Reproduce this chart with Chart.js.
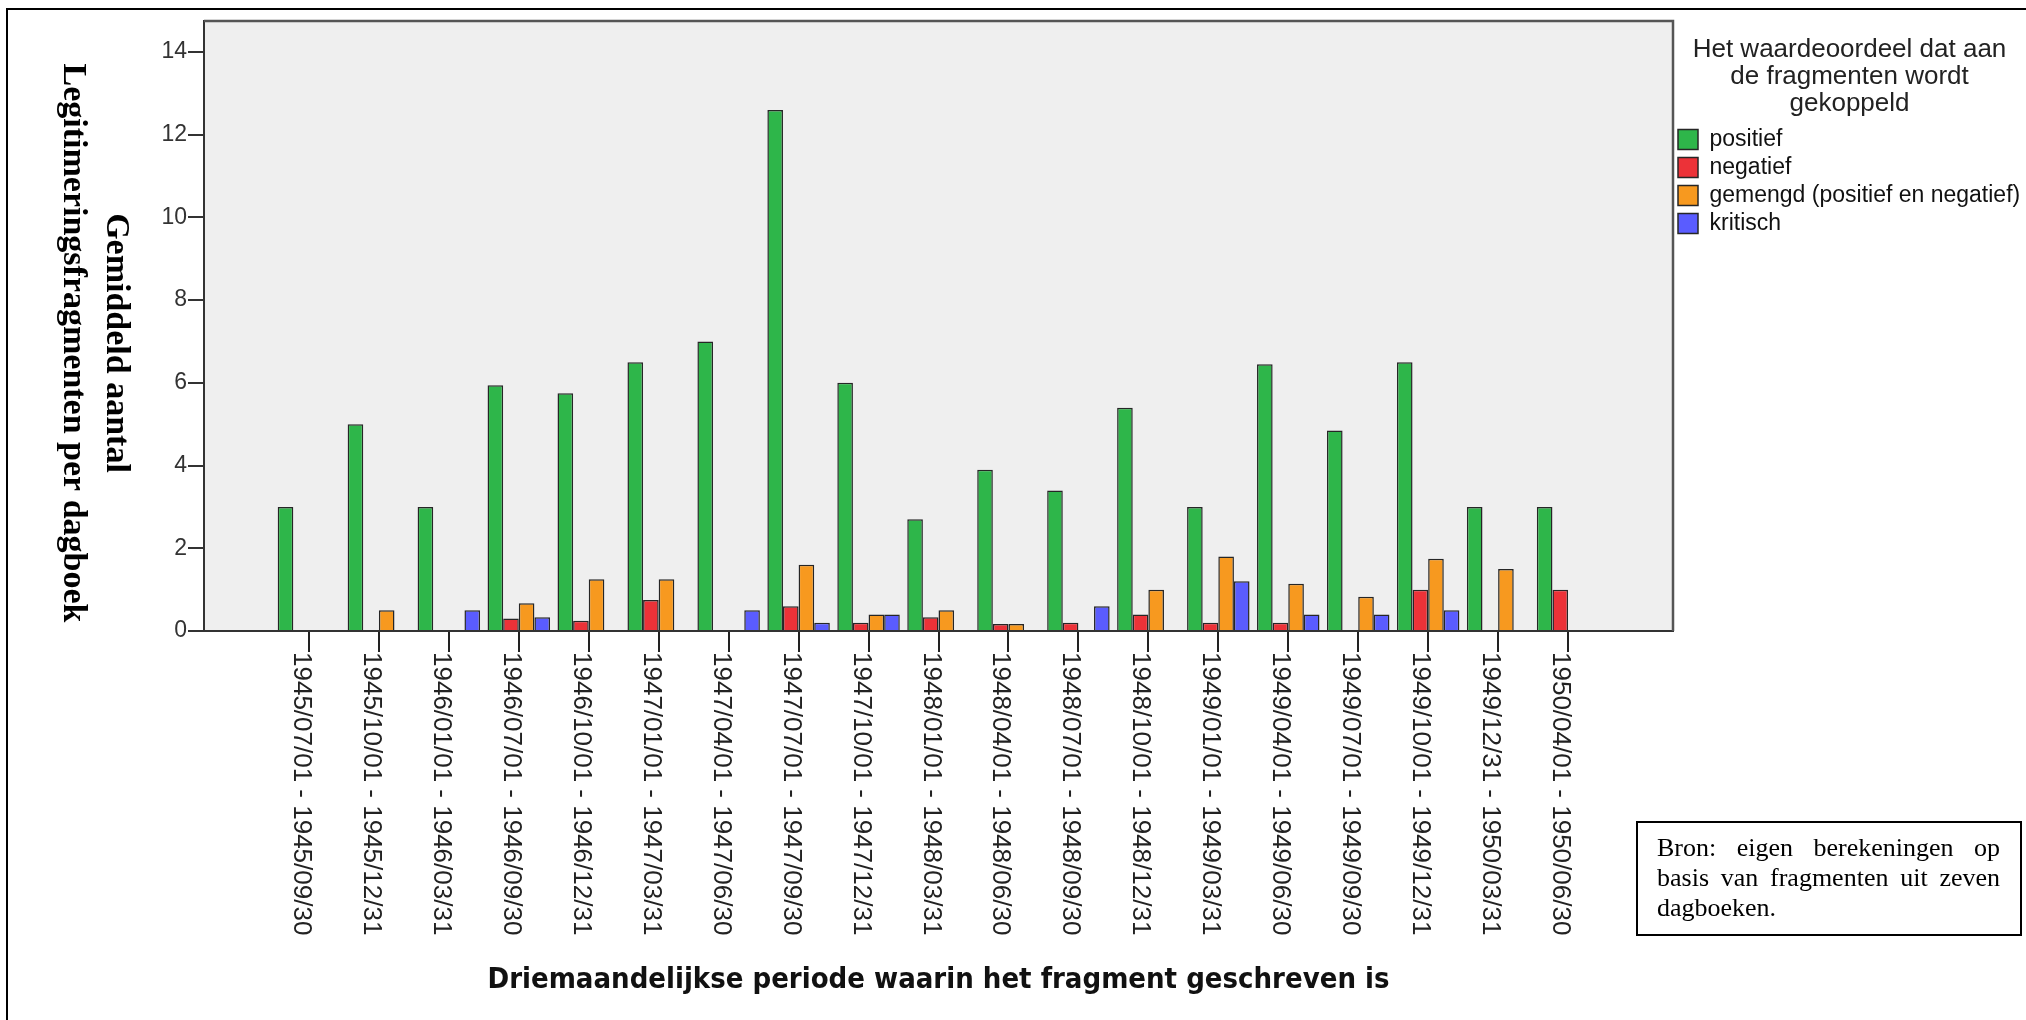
<!DOCTYPE html>
<html>
<head>
<meta charset="utf-8">
<script src="https://cdn.jsdelivr.net/npm/chart.js@4/dist/chart.umd.min.js"></script>
<style>
html,body{margin:0;padding:0;background:#fff;}
#wrap{width:2026px;height:1020px;position:relative;}
</style>
</head>
<body>
<div id="wrap"><canvas id="c" width="2026" height="1020"></canvas></div>
<script>
// ---------- data ----------
const periods = [
  '1945/07/01 - 1945/09/30','1945/10/01 - 1945/12/31','1946/01/01 - 1946/03/31',
  '1946/07/01 - 1946/09/30','1946/10/01 - 1946/12/31','1947/01/01 - 1947/03/31',
  '1947/04/01 - 1947/06/30','1947/07/01 - 1947/09/30','1947/10/01 - 1947/12/31',
  '1948/01/01 - 1948/03/31','1948/04/01 - 1948/06/30','1948/07/01 - 1948/09/30',
  '1948/10/01 - 1948/12/31','1949/01/01 - 1949/03/31','1949/04/01 - 1949/06/30',
  '1949/07/01 - 1949/09/30','1949/10/01 - 1949/12/31','1949/12/31 - 1950/03/31',
  '1950/04/01 - 1950/06/30'
];
const positief = [3, 5, 3, 5.94, 5.75, 6.5, 7, 12.6, 6, 2.7, 3.9, 3.4, 5.4, 3, 6.45, 4.85, 6.5, 3, 3];
const negatief = [0, 0, 0, 0.3, 0.25, 0.75, 0, 0.6, 0.2, 0.33, 0.17, 0.2, 0.4, 0.2, 0.2, 0, 1, 0, 1];
const gemengd  = [0, 0.5, 0, 0.67, 1.25, 1.25, 0, 1.6, 0.4, 0.5, 0.17, 0, 1, 1.8, 1.14, 0.83, 1.75, 1.5, 0];
const kritisch = [0, 0, 0.5, 0.33, 0, 0, 0.5, 0.2, 0.4, 0, 0, 0.6, 0, 1.2, 0.4, 0.4, 0.5, 0, 0];
const seriesNames = ['positief', 'negatief', 'gemengd (positief en negatief)', 'kritisch'];
const seriesColors = ['#2EB64A', '#EC3238', '#F7991F', '#5A5CFF'];
const yTickValues = [0, 2, 4, 6, 8, 10, 12, 14];
const yTitleLines = ['Gemiddeld aantal', 'Legitimeringsfragmenten per dagboek'];
const xTitleText = 'Driemaandelijkse periode waarin het fragment geschreven is';
const legendTitleLines = ['Het waardeoordeel dat aan', 'de fragmenten wordt', 'gekoppeld'];
const sourceLines = ['Bron: eigen berekeningen op', 'basis van fragmenten uit zeven', 'dagboeken.'];

// ---------- helpers ----------
function fontAvailable(name) {
  const c = document.createElement('canvas').getContext('2d');
  c.font = 'bold 40px monospace';
  const w1 = c.measureText('Driemaandelijkse periode').width;
  c.font = 'bold 40px "' + name + '", monospace';
  const w2 = c.measureText('Driemaandelijkse periode').width;
  return Math.abs(w1 - w2) > 0.5;
}
const condensed = fontAvailable('DejaVu Sans Condensed');
const xTitleFont = condensed
  ? {family: '"DejaVu Sans Condensed"', size: 29, weight: 'bold'}
  : {family: '"DejaVu Sans"', size: 26.5, weight: 'bold'};

const seriesValues = [positief, negatief, gemengd, kritisch];
const datasets = seriesValues.map((vals, k) => ({
  label: seriesNames[k],
  data: vals.map((v, i) => ({x: i, y: v})),
  backgroundColor: seriesColors[k],
  borderColor: '#262626',
  borderWidth: 1.5,
  borderSkipped: 'bottom'
}));

const decor = {
  id: 'decor',
  beforeDraw(chart) {
    const {ctx, chartArea: a} = chart;
    ctx.save();
    ctx.fillStyle = '#ffffff';
    ctx.fillRect(0, 0, chart.width, chart.height);
    ctx.fillStyle = '#EFEFEF';
    ctx.fillRect(a.left, a.top, a.right - a.left, a.bottom - a.top);
    ctx.restore();
  },
  afterDraw(chart) {
    const {ctx, chartArea: a} = chart;
    const xs = chart.scales.x;
    ctx.save();
    // plot frame top and right
    ctx.strokeStyle = '#555';
    ctx.lineWidth = 2.5;
    ctx.beginPath();
    ctx.moveTo(a.left, a.top);
    ctx.lineTo(a.right, a.top);
    ctx.lineTo(a.right, a.bottom);
    ctx.stroke();
    // outer frame (left and top)
    ctx.fillStyle = '#000';
    ctx.fillRect(6, 8, 2, chart.height - 8);
    ctx.fillRect(6, 8, chart.width - 6, 2);

    // x tick labels, rotated clockwise
    ctx.fillStyle = '#222';
    ctx.font = '26px "Liberation Sans", Arial, sans-serif';
    ctx.textAlign = 'left';
    ctx.textBaseline = 'alphabetic';
    periods.forEach((p, i) => {
      const px = xs.getPixelForValue(i);
      ctx.save();
      ctx.translate(px, a.bottom + 21);
      ctx.rotate(Math.PI / 2);
      ctx.fillText(p, 0, 15);
      ctx.restore();
    });

    // y axis title, rotated clockwise, two lines
    ctx.fillStyle = '#000';
    ctx.font = 'bold 34px "Liberation Serif", "Times New Roman", serif';
    ctx.textAlign = 'center';
    const ty = 343;
    [[yTitleLines[0], 107], [yTitleLines[1], 64]].forEach(([t, bx]) => {
      ctx.save();
      ctx.translate(bx, ty);
      ctx.rotate(Math.PI / 2);
      ctx.fillText(t, 0, 0);
      ctx.restore();
    });

    // source note box
    ctx.strokeStyle = '#000';
    ctx.lineWidth = 2;
    ctx.strokeRect(1637, 822, 384, 113);
    ctx.font = '26px "Liberation Serif", "Times New Roman", serif';
    ctx.textAlign = 'left';
    const x0 = 1657, x1 = 2000;
    sourceLines.forEach((line, li) => {
      const y = 856 + li * 30;
      const words = line.split(' ');
      if (li === sourceLines.length - 1 || words.length < 2) {
        ctx.fillText(line, x0, y);
        return;
      }
      const widths = words.map(w => ctx.measureText(w).width);
      const sum = widths.reduce((s, w) => s + w, 0);
      const gap = (x1 - x0 - sum) / (words.length - 1);
      let x = x0;
      words.forEach((w, wi) => { ctx.fillText(w, x, y); x += widths[wi] + gap; });
    });
    ctx.restore();
  }
};

Chart.defaults.font.family = '"Liberation Sans", Arial, sans-serif';
Chart.defaults.color = '#222';

new Chart(document.getElementById('c').getContext('2d'), {
  type: 'bar',
  data: {datasets},
  options: {
    responsive: false,
    animation: false,
    devicePixelRatio: 1,
    events: [],
    layout: {padding: {top: 21, right: 0, bottom: 0, left: 0}},
    datasets: {bar: {categoryPercentage: 0.893, barPercentage: 1}},
    scales: {
      x: {
        type: 'linear',
        min: -1.5,
        max: 19.5,
        offset: false,
        afterBuildTicks: s => { s.ticks = periods.map((p, i) => ({value: i})); },
        afterFit: s => { s.height = 389; },
        ticks: {display: false, stepSize: 1},
        grid: {display: true, offset: false, drawOnChartArea: false, drawTicks: true, tickLength: 21, color: '#222', lineWidth: 2},
        border: {display: true, color: '#333', width: 2},
        title: {display: true, text: xTitleText, font: xTitleFont, color: '#111', padding: {top: 0, bottom: 22}}
      },
      y: {
        min: 0,
        max: 14.75,
        afterBuildTicks: s => { s.ticks = yTickValues.map(v => ({value: v})); },
        afterFit: s => { s.width = 204; },
        ticks: {font: {size: 23}, color: '#333', padding: 1},
        grid: {display: true, drawOnChartArea: false, drawTicks: true, tickLength: 16, color: '#333', lineWidth: 2},
        border: {display: true, color: '#333', width: 2}
      }
    },
    plugins: {
      legend: {
        position: 'right',
        align: 'start',
        maxWidth: 353,
        labels: {boxWidth: 20, boxHeight: 20, padding: 5, font: {size: 23}, color: '#111'},
        title: {display: true, text: legendTitleLines, color: '#222', position: 'center',
                font: {size: 26, lineHeight: 1.04}, padding: {top: 16, bottom: 59}}
      },
      tooltip: {enabled: false}
    }
  },
  plugins: [decor]
});
</script>
</body>
</html>
